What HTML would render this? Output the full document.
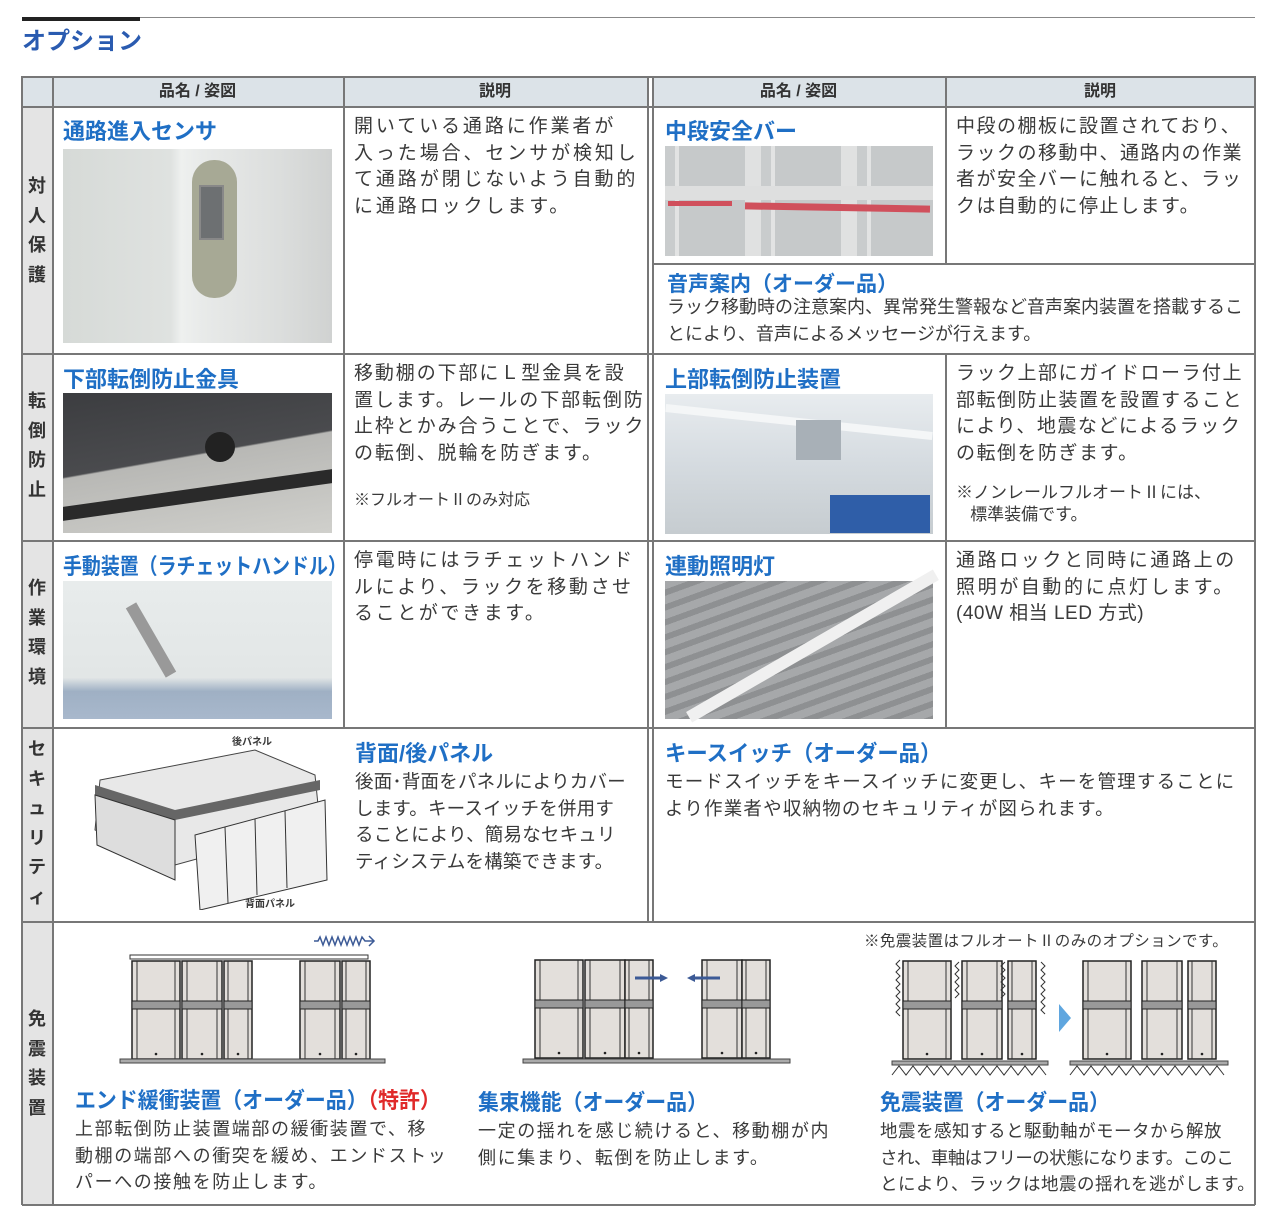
<!DOCTYPE html>
<html><head><meta charset="utf-8"><style>
*{margin:0;padding:0;box-sizing:border-box}
body{width:1279px;height:1227px;background:#fff;position:relative;overflow:hidden;font-family:"Liberation Sans","Noto Sans CJK JP",sans-serif;color:#3a3a3a}
.a{position:absolute}
.h{position:absolute;color:#1f6fc5;font-weight:bold;font-size:22px;white-space:nowrap;transform-origin:0 0}
.d{position:absolute;font-size:19px;line-height:26.5px;color:#3a3a3a;white-space:nowrap}
.d2{position:absolute;font-size:18px;line-height:26.5px;color:#3a3a3a;white-space:nowrap}
.hl{position:absolute;background:#777;height:1.5px}
.vl{position:absolute;background:#777;width:1.5px}
.cat{position:absolute;left:22px;width:30px;background:#e4e4e4;font-weight:bold;font-size:18px;text-align:center;line-height:29.5px;color:#333}
.th{position:absolute;top:77px;height:29px;background:#dce3e8;font-weight:bold;font-size:16px;text-align:center;line-height:29px;color:#333}
</style></head><body>
<div class="a" style="left:22px;top:17px;width:1233px;height:1px;background:#888"></div>
<div class="a" style="left:22px;top:17px;width:118px;height:4px;background:#222"></div>
<div class="a" style="left:22px;top:21px;font-size:24px;font-weight:bold;color:#2a5bb0">オプション</div>

<div class="th" style="left:22px;width:30px"></div>
<div class="th" style="left:52px;width:291px">品名 / 姿図</div>
<div class="th" style="left:343px;width:304px">説明</div>
<div class="th" style="left:652px;width:293px">品名 / 姿図</div>
<div class="th" style="left:945px;width:310px">説明</div>

<div class="cat" style="top:106px;height:247px;padding-top:66px">対<br>人<br>保<br>護</div>
<div class="cat" style="top:353px;height:187px;padding-top:34px">転<br>倒<br>防<br>止</div>
<div class="cat" style="top:540px;height:187px;padding-top:34px">作<br>業<br>環<br>境</div>
<div class="cat" style="top:727px;height:194px;padding-top:8px">セ<br>キ<br>ュ<br>リ<br>テ<br>ィ</div>
<div class="cat" style="top:921px;height:284px;padding-top:84px">免<br>震<br>装<br>置</div>

<div class="hl" style="left:22px;top:76px;width:1233px"></div>
<div class="hl" style="left:22px;top:106px;width:1233px"></div>
<div class="hl" style="left:22px;top:353px;width:1233px"></div>
<div class="hl" style="left:22px;top:540px;width:1233px"></div>
<div class="hl" style="left:22px;top:727px;width:1233px"></div>
<div class="hl" style="left:22px;top:921px;width:1233px"></div>
<div class="hl" style="left:22px;top:1204px;width:1233px"></div>
<div class="hl" style="left:652px;top:263px;width:603px"></div>
<div class="vl" style="left:21px;top:76px;height:1129px"></div>
<div class="vl" style="left:52px;top:76px;height:1129px"></div>
<div class="vl" style="left:343px;top:76px;height:652px"></div>
<div class="vl" style="left:647px;top:76px;height:845px"></div>
<div class="vl" style="left:652px;top:76px;height:845px"></div>
<div class="vl" style="left:945px;top:76px;height:188px"></div>
<div class="vl" style="left:945px;top:353px;height:374px"></div>
<div class="vl" style="left:1254px;top:76px;height:1129px"></div>

<!-- row1 -->
<div class="h" style="left:63px;top:114px">通路進入センサ</div>
<div class="a" style="left:63px;top:149px;width:269px;height:194px;background:linear-gradient(90deg,#d6dad7 0,#dfe2e0 40%,#eef0ef 44%,#e8eae9 52%,#dcdedd 80%,#d0d2d1 100%)"></div>
<div class="a" style="left:192px;top:160px;width:45px;height:138px;border-radius:22px;background:#a7a995"></div>
<div class="a" style="left:199px;top:185px;width:25px;height:55px;background:#6d7072;border:2px solid #888"></div>
<div class="d" style="left:354px;top:114px;letter-spacing:2.9px">開いている通路に作業者が<br>入った場合、センサが検知し<br>て通路が閉じないよう自動的<br>に通路ロックします。</div>
<div class="h" style="left:665px;top:114px">中段安全バー</div>
<div class="a" style="left:665px;top:146px;width:268px;height:110px;background:repeating-linear-gradient(90deg,#c9cccd 0,#c9cccd 10px,#e2e3e3 10px,#e2e3e3 14px,#c6c9ca 14px,#c6c9ca 80px,#e0e1e1 80px,#e0e1e1 96px)"></div>
<div class="a" style="left:665px;top:186px;width:268px;height:14px;background:#dedfdf"></div>
<div class="a" style="left:668px;top:201px;width:64px;height:5px;background:#d0505c"></div>
<div class="a" style="left:745px;top:204px;width:185px;height:7px;background:#d0505c;transform:rotate(1deg)"></div>
<div class="d" style="left:956px;top:114px;letter-spacing:1.5px">中段の棚板に設置されており、<br>ラックの移動中、通路内の作業<br>者が安全バーに触れると、ラッ<br>クは自動的に停止します。</div>
<div class="h" style="left:667px;top:268px;font-size:21px">音声案内（オーダー品）</div>
<div class="d2" style="left:667px;top:294px">ラック移動時の注意案内、異常発生警報など音声案内装置を搭載するこ<br>とにより、音声によるメッセージが行えます。</div>

<!-- row2 -->
<div class="h" style="left:63px;top:362px">下部転倒防止金具</div>
<div class="a" style="left:63px;top:393px;width:269px;height:140px;background:linear-gradient(170deg,#3c3d40 0,#4a4b4e 45%,#b8b8b5 46%,#d0d0cc 100%)"></div>
<div class="a" style="left:63px;top:488px;width:269px;height:14px;background:#2a2a2a;transform:skewY(-8deg)"></div>
<div class="a" style="left:205px;top:432px;width:30px;height:30px;border-radius:50%;background:#222"></div>
<div class="d" style="left:354px;top:361px;letter-spacing:1.9px">移動棚の下部にＬ型金具を設<br>置します。レールの下部転倒防<br>止枠とかみ合うことで、ラック<br>の転倒、脱輪を防ぎます。</div>
<div class="d2" style="left:354px;top:488px;font-size:16px">※フルオートⅡのみ対応</div>
<div class="h" style="left:665px;top:362px">上部転倒防止装置</div>
<div class="a" style="left:665px;top:394px;width:268px;height:140px;background:linear-gradient(180deg,#e8ecef 0,#d5dbe0 50%,#c6ccd0 100%)"></div>
<div class="a" style="left:665px;top:418px;width:268px;height:8px;background:#f4f6f7;transform:rotate(6deg)"></div>
<div class="a" style="left:796px;top:420px;width:45px;height:40px;background:#a8b0b7"></div>
<div class="a" style="left:830px;top:495px;width:100px;height:38px;background:#2f5ea8"></div>
<div class="d" style="left:956px;top:361px;letter-spacing:1.5px">ラック上部にガイドローラ付上<br>部転倒防止装置を設置すること<br>により、地震などによるラック<br>の転倒を防ぎます。</div>
<div class="d2" style="left:956px;top:482px;font-size:17px;line-height:22px">※ノンレールフルオートⅡには、<br>&nbsp;&nbsp;&nbsp;標準装備です。</div>

<!-- row3 -->
<div class="h" style="left:63px;top:549px;transform:scaleX(0.86)">手動装置（ラチェットハンドル）</div>
<div class="a" style="left:63px;top:581px;width:269px;height:138px;background:linear-gradient(180deg,#e8ecec 0,#e2e6e6 70%,#9fb0c4 80%,#a8b8cc 100%)"></div>
<div class="a" style="left:145px;top:600px;width:12px;height:80px;background:#999;transform:rotate(-30deg)"></div>
<div class="d" style="left:354px;top:548px;letter-spacing:2.6px">停電時にはラチェットハンド<br>ルにより、ラックを移動させ<br>ることができます。</div>
<div class="h" style="left:665px;top:549px">連動照明灯</div>
<div class="a" style="left:665px;top:581px;width:268px;height:138px;background:repeating-linear-gradient(160deg,#a6a8aa 0,#a6a8aa 8px,#8e9092 8px,#8e9092 14px)"></div>
<div class="a" style="left:670px;top:640px;width:285px;height:12px;background:#f0f0f0;transform:rotate(-30deg)"></div>
<div class="d" style="left:956px;top:548px;letter-spacing:2.6px">通路ロックと同時に通路上の<br>照明が自動的に点灯します。<br><span style="letter-spacing:0.5px">(40W 相当 LED 方式)</span></div>

<!-- row4 -->
<div class="a" style="left:232px;top:733px;font-size:10px;font-weight:bold">後パネル</div>
<div class="a" style="left:245px;top:895px;font-size:10px;font-weight:bold">背面パネル</div>
<svg class="a" style="left:85px;top:745px" width="250" height="165">
<polygon points="15,35 170,5 230,30 235,80 90,120 10,85" fill="#e8e8e8" stroke="#444"/>
<polygon points="10,40 90,65 235,35 235,45 90,75 10,50" fill="#666"/>
<polygon points="110,90 240,55 242,135 115,165" fill="#f0f0f0" stroke="#333"/>
<g stroke="#333"><line x1="140" y1="82" x2="143" y2="158"/><line x1="170" y1="74" x2="172" y2="150"/><line x1="200" y1="66" x2="202" y2="143"/></g>
<polygon points="10,50 90,75 90,135 12,100" fill="#ddd" stroke="#333"/>
</svg>
<div class="h" style="left:355px;top:736px">背面/後パネル</div>
<div class="d" style="left:355px;top:769px;font-size:18.5px;letter-spacing:0.2px">後面･背面をパネルによりカバー<br>します。キースイッチを併用す<br>ることにより、簡易なセキュリ<br>ティシステムを構築できます。</div>
<div class="h" style="left:665px;top:736px;transform:scaleX(0.97)">キースイッチ（オーダー品）</div>
<div class="d" style="left:665px;top:769px;font-size:18.5px;letter-spacing:1.2px">モードスイッチをキースイッチに変更し、キーを管理することに<br>より作業者や収納物のセキュリティが図られます。</div>

<!-- row5 -->
<div class="a" style="left:864px;top:929px;font-size:15.5px;white-space:nowrap;letter-spacing:0.4px">※免震装置はフルオートⅡのみのオプションです。</div>
<svg class="a" style="left:0;top:0" width="1279" height="1227">
<defs>
<g id="u48"><rect x="0" y="0" width="48" height="98" fill="#e3dfdb" stroke="#222" stroke-width="1.5"/><line x1="5" y1="0" x2="5" y2="98" stroke="#333"/><line x1="43" y1="0" x2="43" y2="98" stroke="#333"/><rect x="0" y="40" width="48" height="8" fill="#999" stroke="#222"/><circle cx="24" cy="93" r="1.3" fill="#222"/></g>
<g id="u40"><rect x="0" y="0" width="40" height="98" fill="#e3dfdb" stroke="#222" stroke-width="1.5"/><line x1="5" y1="0" x2="5" y2="98" stroke="#333"/><line x1="35" y1="0" x2="35" y2="98" stroke="#333"/><rect x="0" y="40" width="40" height="8" fill="#999" stroke="#222"/><circle cx="20" cy="93" r="1.3" fill="#222"/></g>
<g id="u28"><rect x="0" y="0" width="28" height="98" fill="#e3dfdb" stroke="#222" stroke-width="1.5"/><line x1="4" y1="0" x2="4" y2="98" stroke="#333"/><line x1="24" y1="0" x2="24" y2="98" stroke="#333"/><rect x="0" y="40" width="28" height="8" fill="#999" stroke="#222"/><circle cx="14" cy="93" r="1.3" fill="#222"/></g>
</defs>
<rect x="130" y="955" width="238" height="4" fill="#fff" stroke="#333"/>
<use href="#u48" x="132" y="961"/><use href="#u40" x="182" y="961"/><use href="#u28" x="224" y="961"/>
<use href="#u40" x="300" y="961"/><use href="#u28" x="342" y="961"/>
<rect x="120" y="1059" width="265" height="4" fill="#aaa" stroke="#444"/>
<polyline points="314,941 318,941 320,937 323,945 326,937 329,945 332,937 335,945 338,937 341,945 344,937 347,945 350,937 353,945 356,937 359,945 362,937 365,941 373,941" fill="none" stroke="#3c5a96" stroke-width="1.5"/>
<polyline points="369,936 374,941 369,946" fill="none" stroke="#3c5a96" stroke-width="1.5"/>
<use href="#u48" x="535" y="960"/><use href="#u40" x="585" y="960"/><use href="#u28" x="625" y="960"/>
<use href="#u40" x="702" y="960"/><use href="#u28" x="742" y="960"/>
<rect x="523" y="1059" width="267" height="4" fill="#aaa" stroke="#444"/>
<line x1="635" y1="978" x2="662" y2="978" stroke="#3c5a96" stroke-width="3"/><polygon points="668,978 660,974 660,982" fill="#3c5a96"/>
<line x1="693" y1="978" x2="720" y2="978" stroke="#3c5a96" stroke-width="3"/><polygon points="687,978 695,974 695,982" fill="#3c5a96"/>
<use href="#u48" x="903" y="961"/><use href="#u40" x="962" y="961"/><use href="#u28" x="1008" y="961"/>
<use href="#u48" x="1083" y="961"/><use href="#u40" x="1142" y="961"/><use href="#u28" x="1188" y="961"/>
<rect x="892" y="1061" width="156" height="4" fill="#aaa" stroke="#444"/>
<rect x="1070" y="1061" width="158" height="4" fill="#aaa" stroke="#444"/>
<polyline points="892,1075 899,1066 906,1075 913,1066 920,1075 927,1066 934,1075 941,1066 948,1075 955,1066 962,1075 969,1066 976,1075 983,1066 990,1075 997,1066 1004,1075 1011,1066 1018,1075 1025,1066 1032,1075 1039,1066 1046,1075" fill="none" stroke="#333"/>
<polyline points="1070,1075 1077,1066 1084,1075 1091,1066 1098,1075 1105,1066 1112,1075 1119,1066 1126,1075 1133,1066 1140,1075 1147,1066 1154,1075 1161,1066 1168,1075 1175,1066 1182,1075 1189,1066 1196,1075 1203,1066 1210,1075 1217,1066 1224,1075" fill="none" stroke="#333"/>
<polyline points="900,960 896,964 900,968 896,972 900,976 896,980 900,984 896,988 900,992 896,996 900,1000 896,1004 900,1008 896,1012 900,1016" fill="none" stroke="#333"/>
<polyline points="959,962 955,966 959,970 955,974 959,978 955,982 959,986 955,990 959,994 955,998" fill="none" stroke="#333"/>
<polyline points="1005,962 1001,966 1005,970 1001,974 1005,978 1001,982 1005,986 1001,990 1005,994 1001,998" fill="none" stroke="#333"/>
<polyline points="1041,962 1045,966 1041,970 1045,974 1041,978 1045,982 1041,986 1045,990 1041,994 1045,998 1041,1002 1045,1006 1041,1010 1045,1014" fill="none" stroke="#333"/>
<polygon points="1059,1004 1071,1018 1059,1032" fill="#5fa6df"/>
</svg>
<div class="h" style="left:75px;top:1083px;transform:scaleX(0.95)">エンド緩衝装置（オーダー品）<span style="color:#e02a2a">（特許）</span></div>
<div class="d2" style="left:75px;top:1116px;letter-spacing:1.6px">上部転倒防止装置端部の緩衝装置で、移<br>動棚の端部への衝突を緩め、エンドストッ<br>パーへの接触を防止します。</div>
<div class="h" style="left:478px;top:1085px;transform:scaleX(0.95)">集束機能（オーダー品）</div>
<div class="d2" style="left:478px;top:1118px;letter-spacing:1.6px">一定の揺れを感じ続けると、移動棚が内<br>側に集まり、転倒を防止します。</div>
<div class="h" style="left:880px;top:1085px;transform:scaleX(0.95)">免震装置（オーダー品）</div>
<div class="d2" style="left:880px;top:1118px;font-size:17.5px;letter-spacing:0.5px">地震を感知すると駆動軸がモータから解放<br><span style="letter-spacing:-0.6px">され、車軸はフリーの状態になります。このこ</span><br>とにより、ラックは地震の揺れを逃がします。</div>
</body></html>
